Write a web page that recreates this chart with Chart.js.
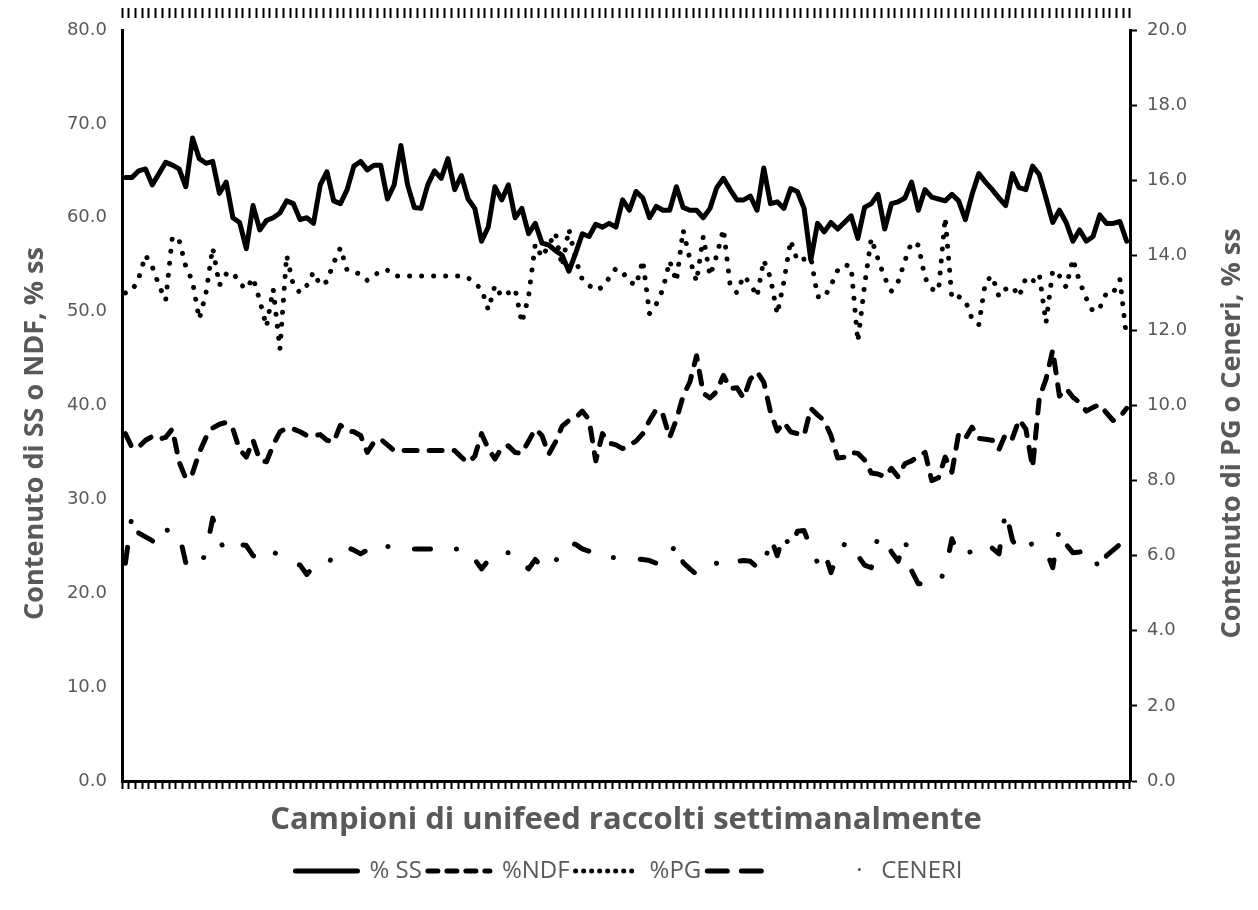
<!DOCTYPE html>
<html>
<head>
<meta charset="utf-8">
<script src="https://cdn.jsdelivr.net/npm/chart.js@4.4.0/dist/chart.umd.min.js"></script>
<style>
  html, body { margin: 0; padding: 0; background: #fff; }
  #wrap { width: 1258px; height: 910px; }
</style>
</head>
<body>
<div id="wrap"><canvas id="chart" width="1258" height="910"></canvas></div>
<script>
// weekly unifeed samples (150 categories, no labels shown)
const samples = Array.from({ length: 150 }, (_, i) => i + 1);

// % SS (left axis)
const ss = [
  64.3, 64.3, 65.0, 65.2, 63.5, 64.7, 65.9, 65.6, 65.2, 63.3,
  68.5, 66.3, 65.8, 66.0, 62.6, 63.8, 60.0, 59.5, 56.7, 61.3,
  58.7, 59.7, 60.0, 60.5, 61.8, 61.5, 59.8, 60.0, 59.4, 63.5,
  64.9, 61.8, 61.5, 63.0, 65.5, 66.0, 65.1, 65.6, 65.6, 62.0,
  63.5, 67.7, 63.5, 61.1, 61.0, 63.5, 65.0, 64.2, 66.3, 63.0,
  64.5, 62.0, 61.0, 57.5, 59.0, 63.3, 61.9, 63.5, 60.0, 61.0,
  58.3, 59.4, 57.3, 57.1, 56.5, 56.0, 54.3, 56.2, 58.3, 58.0,
  59.3, 59.0, 59.4, 59.0, 61.9, 60.8, 62.8, 62.1, 60.0, 61.2,
  60.8, 60.8, 63.3, 61.1, 60.8, 60.8, 60.0, 61.0, 63.2, 64.2,
  63.0, 61.9, 61.9, 62.3, 60.8, 65.3, 61.5, 61.7, 61.0, 63.1,
  62.8, 61.0, 55.5, 59.4, 58.5, 59.5, 58.8, 59.5, 60.2, 57.8,
  61.1, 61.5, 62.5, 58.8, 61.5, 61.7, 62.1, 63.8, 60.8, 63.0,
  62.2, 62.0, 61.8, 62.5, 61.8, 59.8, 62.5, 64.7, 63.8, 63.0,
  62.1, 61.3, 64.7, 63.2, 63.0, 65.5, 64.6, 62.1, 59.5, 60.8,
  59.5, 57.5, 58.7, 57.5, 58.0, 60.3, 59.4, 59.4, 59.6, 57.5
];

// % NDF (left axis)
const ndf = [
  37.0, 35.5, 35.6, 36.3, 36.7, 36.4, 36.6, 37.5, 34.0, 32.2,
  32.8, 35.0, 36.6, 37.6, 38.0, 38.2, 37.5, 35.3, 34.5, 36.3,
  34.2, 34.0, 35.8, 37.2, 37.6, 37.5, 37.2, 36.8, 36.8, 36.9,
  36.3, 36.1, 37.9, 37.3, 37.2, 36.8, 35.0, 36.1, 36.4, 35.8,
  35.2, 35.2, 35.2, 35.2, 35.2, 35.2, 35.2, 35.2, 35.2, 35.2,
  34.5, 33.9, 34.6, 37.0, 35.4, 34.3, 35.5, 35.7, 35.0, 34.9,
  36.2, 37.5, 36.8, 34.8, 36.1, 37.8, 38.4, 38.7, 39.4, 38.5,
  34.1, 37.0, 36.0, 35.8, 35.4, 35.8, 36.2, 37.0, 38.4, 39.6,
  39.0, 36.6, 38.5, 41.0, 42.5, 45.3, 41.3, 40.8, 41.5, 43.2,
  41.8, 41.9, 40.8, 42.8, 43.6, 42.5, 39.3, 37.3, 38.2, 37.2,
  37.0, 36.8, 39.7, 39.0, 38.4, 36.8, 34.4, 34.5, 35.0, 34.9,
  34.2, 32.8, 32.7, 32.4, 33.3, 32.4, 33.8, 34.1, 34.6, 35.0,
  32.0, 32.3, 34.5, 32.9, 37.0, 36.5, 37.7, 36.5, 36.4, 36.3,
  35.3, 37.0, 36.5, 38.5, 37.5, 33.4, 40.8, 42.8, 45.9, 41.0,
  41.8, 40.9, 40.3, 39.4, 39.8, 40.1, 39.2, 38.4, 38.8, 39.7
];

// % PG (right axis)
const pg = [
  13.0, 13.05, 13.4, 14.0, 13.7, 13.2, 12.8, 14.5, 14.4, 13.7,
  13.3, 12.3, 13.0, 14.2, 13.2, 13.5, 13.55, 13.25, 13.1, 13.4,
  12.8, 12.1, 13.1, 11.5, 14.0, 13.2, 13.0, 13.2, 13.55, 13.2,
  13.3, 13.8, 14.2, 13.6, 13.55, 13.5, 13.33, 13.45, 13.6, 13.6,
  13.45, 13.45, 13.45, 13.45, 13.45, 13.45, 13.45, 13.45, 13.45, 13.45,
  13.45, 13.4, 13.25, 13.1, 12.55, 13.2, 12.9, 13.0, 13.1, 12.2,
  12.9, 14.3, 13.95, 14.27, 14.6, 13.7, 14.7, 13.9, 13.35, 13.2,
  13.07, 13.15, 13.4, 13.65, 13.55, 13.3, 13.2, 13.87, 12.45, 12.7,
  13.1, 13.85, 13.3, 14.67, 13.9, 13.3, 14.5, 13.45, 14.0, 14.7,
  13.2, 13.0, 13.45, 13.25, 12.9, 13.87, 13.4, 12.43, 13.3, 14.4,
  13.85, 13.9, 13.95, 12.9, 12.87, 13.2, 13.6, 13.75, 13.7, 11.7,
  13.2, 14.45, 13.9, 13.4, 13.05, 13.3, 13.85, 14.35, 14.27, 13.4,
  13.1, 13.05, 15.0, 12.85, 12.9, 12.8, 12.3, 12.15, 13.3, 13.45,
  12.9, 13.1, 13.17, 12.9, 13.4, 13.3, 13.5, 12.2, 13.6, 13.45,
  13.15, 13.9, 13.3, 12.85, 12.5, 12.6, 13.0, 13.0, 13.35, 11.8
];

// CENERI (right axis)
const ceneri = [
  5.8, 7.1, 6.6, 6.5, 6.4, 6.27, 6.67, 6.7, 6.6, 5.8,
  5.72, 5.68, 6.1, 7.0, 6.4, 6.1, 6.2, 6.3, 6.27, 6.0,
  5.95, 6.15, 6.1, 6.0, 5.87, 5.8, 5.75, 5.5, 5.7, 5.85,
  5.92, 5.85, 6.0, 6.22, 6.15, 6.05, 6.15, 6.3, 6.33, 6.25,
  6.18, 6.18, 6.18, 6.18, 6.18, 6.18, 6.18, 6.18, 6.18, 6.18,
  6.18, 6.18, 5.9, 5.65, 5.87, 6.05, 6.08, 6.08, 6.08, 5.8,
  5.65, 5.9, 5.7, 5.65, 5.85, 6.15, 6.35, 6.3, 6.18, 6.12,
  6.08, 6.06, 5.95, 5.95, 5.95, 5.95, 5.92, 5.9, 5.87, 5.8,
  5.78, 6.0, 6.35, 5.82, 5.65, 5.5, 5.6, 5.75, 5.8, 5.75,
  5.68, 5.85, 5.87, 5.85, 5.7, 5.65, 6.5, 6.0, 6.6, 6.15,
  6.65, 6.67, 6.2, 5.82, 6.13, 5.55, 6.05, 6.3, 6.38, 6.0,
  5.75, 5.68, 6.53, 6.45, 6.1, 5.85, 6.45, 5.6, 5.25, 5.25,
  5.26, 5.28, 5.6, 6.45, 6.0, 6.05, 6.12, 6.25, 6.35, 6.2,
  6.05, 7.2, 6.42, 6.1, 6.2, 6.33, 6.25, 6.15, 5.68, 6.75,
  6.3, 6.08, 6.1, 6.15, 6.1, 5.55, 6.0, 6.15, 6.3, 6.35
];

const leftTicks = [0, 10, 20, 30, 40, 50, 60, 70, 80];
const rightTicks = [0, 2, 4, 6, 8, 10, 12, 14, 16, 18, 20];

const leftTitle = 'Contenuto di SS o NDF, % ss';
const rightTitle = 'Contenuto di PG o Ceneri, % ss';

const grey = '#595959';
const tickFont = { family: "'DejaVu Sans', sans-serif", size: 18 };

function lineSet(label, data, axis, dash) {
  return {
    label: label,
    data: data,
    yAxisID: axis,
    borderColor: '#000',
    backgroundColor: '#000',
    borderWidth: 5,
    borderDash: dash,
    borderCapStyle: 'round',
    borderJoinStyle: 'round',
    pointRadius: 0,
    pointHoverRadius: 0,
    tension: 0,
    fill: false
  };
}

// both value-axis titles read bottom-to-top and sit a bit below the plot centre
const sideTitles = {
  id: 'sideTitles',
  afterDraw(chart) {
    const c = chart.ctx;
    const area = chart.chartArea;
    const midY = (area.top + area.bottom) / 2 + 28;
    c.save();
    c.fillStyle = grey;
    c.font = "bold 27px 'Open Sans', sans-serif";
    c.textAlign = 'center';
    c.textBaseline = 'middle';
    [[chart.scales.y.left + 35, leftTitle], [chart.scales.y1.right - 26, rightTitle]].forEach(([x, text]) => {
      c.save();
      c.translate(x, midY);
      c.rotate(-Math.PI / 2);
      c.fillText(text, 0, 0);
      c.restore();
    });
    c.restore();
  }
};

const ctx = document.getElementById('chart').getContext('2d');
new Chart(ctx, {
  type: 'line',
  data: {
    labels: samples,
    datasets: [
      lineSet('% SS', ss, 'y', []),
      lineSet('%NDF', ndf, 'y', [13, 12]),
      lineSet('%PG', pg, 'y1', [0.01, 12]),
      lineSet('CENERI', ceneri, 'y1', [16, 26, 0.01, 27])
    ]
  },
  plugins: [sideTitles],
  options: {
    responsive: false,
    animation: false,
    layout: { padding: { top: 8, left: 0, right: 0, bottom: 17 } },
    plugins: {
      tooltip: { enabled: false },
      legend: {
        position: 'bottom',
        labels: {
          usePointStyle: true,
          pointStyle: 'line',
          pointStyleWidth: 62,
          padding: 6,
          color: grey,
          font: { family: "'Open Sans', sans-serif", size: 24 },
          generateLabels: function(chart) {
            const items = Chart.defaults.plugins.legend.labels.generateLabels(chart);
            items.forEach((item, i) => {
              item.lineDash = chart.data.datasets[i].borderDash;
              item.lineCap = 'round';
              item.lineWidth = 5;
            });
            // the ash entry shows two long dashes, then a dot before its name
            items[1].lineDash = [10, 9];
            items[2].lineDash = [0.01, 8];
            items[3].lineDash = [20, 14];
            items[3].text = '            \u00b7   CENERI';
            return items;
          }
        }
      }
    },
    scales: {
      x: {
        type: 'category',
        position: 'bottom',
        offset: true,
        afterFit: s => { s.height = 72; },
        grid: { display: true, drawOnChartArea: false, drawTicks: true, tickLength: 8, tickWidth: 2, tickColor: '#000', offset: true },
        border: { display: true, color: '#000', width: 3 },
        ticks: { display: false, autoSkip: false },
        title: {
          display: true,
          text: 'Campioni di unifeed raccolti settimanalmente',
          color: grey,
          font: { family: "'Open Sans', sans-serif", size: 31, weight: 'bold' },
          padding: { top: 0, bottom: 14 }
        }
      },
      x2: {
        type: 'category',
        position: 'top',
        offset: true,
        afterFit: s => { s.height = 22; },
        grid: { display: true, drawOnChartArea: false, drawTicks: true, tickLength: 22, tickWidth: 2, tickColor: '#000', offset: true, tickBorderDash: [10, 40] },
        border: { display: false },
        ticks: { display: false, autoSkip: false }
      },
      y: {
        position: 'left',
        min: 0,
        max: 80,
        afterFit: s => { s.width = 122; },
        afterBuildTicks: s => { s.ticks = leftTicks.map(v => ({ value: v })); },
        grid: { display: false, drawTicks: false },
        border: { display: true, color: '#000', width: 3 },
        ticks: { color: grey, font: tickFont, padding: 15, callback: v => v.toFixed(1) }
      },
      y1: {
        position: 'right',
        min: 0,
        max: 20,
        afterFit: s => { s.width = 128; },
        afterBuildTicks: s => { s.ticks = rightTicks.map(v => ({ value: v })); },
        grid: { display: true, drawOnChartArea: false, drawTicks: true, tickLength: 7, tickWidth: 2, tickColor: '#000' },
        border: { display: true, color: '#000', width: 3 },
        ticks: { color: grey, font: tickFont, padding: 10, callback: v => v.toFixed(1) }
      }
    }
  }
});
</script>
</body>
</html>
